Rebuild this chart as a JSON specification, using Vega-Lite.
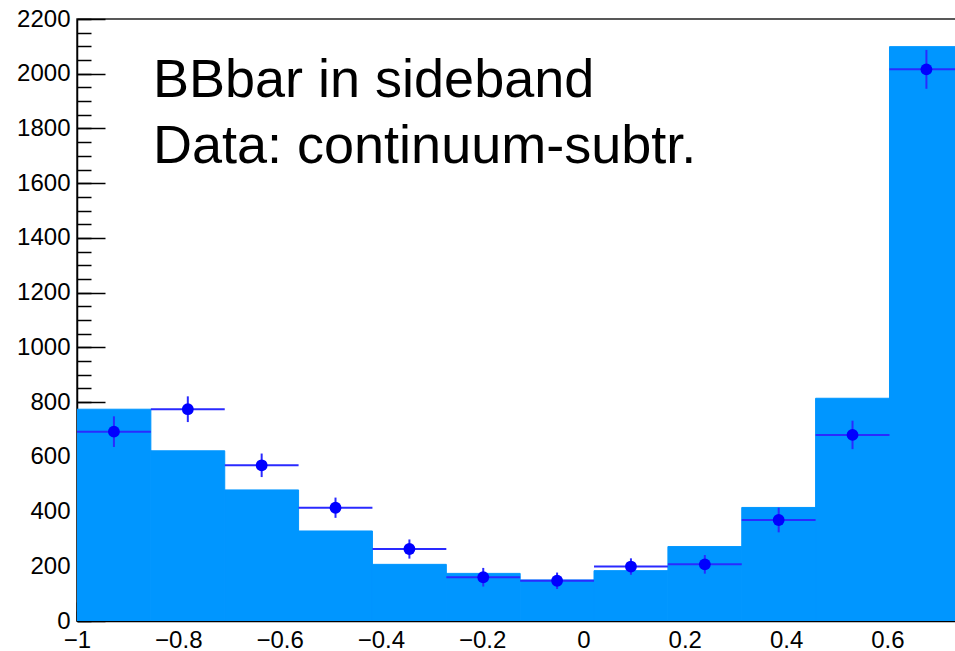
{
  "$schema": "https://vega.github.io/schema/vega-lite/v6.json",
  "width": 879,
  "height": 602,
  "autosize": "none",
  "padding": {"left": 77, "top": 19, "right": 0, "bottom": 30},
  "background": "white",
  "config": {
    "view": {"stroke": "#222", "strokeWidth": 1.5},
    "axis": {
      "labelFont": "Liberation Sans",
      "labelFontSize": 24,
      "labelColor": "#000",
      "domainColor": "#000",
      "domainWidth": 1.5,
      "tickColor": "#000",
      "tickWidth": 1.5,
      "grid": false,
      "labelFlush": false,
      "labelOverlap": false,
      "labelBound": false,
      "title": null
    }
  },
  "datasets": {
    "bins": [
      {"lo": -1.0, "hi": -0.8542, "mid": -0.9271, "mc": 774, "data": 692, "err": 56},
      {"lo": -0.8542, "hi": -0.7083, "mid": -0.7812, "mc": 622, "data": 774, "err": 47},
      {"lo": -0.7083, "hi": -0.5625, "mid": -0.6354, "mc": 479, "data": 569, "err": 43},
      {"lo": -0.5625, "hi": -0.4167, "mid": -0.4896, "mc": 329, "data": 414, "err": 37},
      {"lo": -0.4167, "hi": -0.2708, "mid": -0.3437, "mc": 207, "data": 263, "err": 35},
      {"lo": -0.2708, "hi": -0.125, "mid": -0.1979, "mc": 174, "data": 160, "err": 34},
      {"lo": -0.125, "hi": 0.0208, "mid": -0.0521, "mc": 150, "data": 147, "err": 30},
      {"lo": 0.0208, "hi": 0.1667, "mid": 0.0937, "mc": 184, "data": 199, "err": 30},
      {"lo": 0.1667, "hi": 0.3125, "mid": 0.2396, "mc": 272, "data": 207, "err": 34},
      {"lo": 0.3125, "hi": 0.4583, "mid": 0.3854, "mc": 415, "data": 369, "err": 45},
      {"lo": 0.4583, "hi": 0.6042, "mid": 0.5312, "mc": 814, "data": 680, "err": 52},
      {"lo": 0.6042, "hi": 0.75, "mid": 0.6771, "mc": 2099, "data": 2016, "err": 71}
    ],
    "labels": [
      {"text": "BBbar in sideband", "tx": -0.85, "ty": 1915},
      {"text": "Data: continuum-subtr.", "tx": -0.85, "ty": 1672}
    ]
  },
  "resolve": {"axis": {"x": "independent", "y": "independent"}},
  "layer": [
    {
      "data": {"name": "bins"},
      "mark": {"type": "rect", "color": "#0096FF", "stroke": "#0096FF", "strokeWidth": 1, "clip": true},
      "encoding": {
        "x": {
          "field": "lo", "type": "quantitative",
          "scale": {"domain": [-1, 0.7355], "nice": false, "zero": false},
          "axis": {
            "orient": "bottom",
            "values": [-1, -0.8, -0.6, -0.4, -0.2, 0, 0.2, 0.4, 0.6],
            "tickSize": -19,
            "labelPadding": 26,
            "labelExpr": "datum.value === 0 ? '0' : replace(format(datum.value, '.1~f'), '-', '\u2212')"
          }
        },
        "x2": {"field": "hi"},
        "y": {
          "field": "mc", "type": "quantitative",
          "scale": {"domain": [0, 2200], "nice": false, "zero": true},
          "axis": {
            "orient": "left",
            "values": [0, 200, 400, 600, 800, 1000, 1200, 1400, 1600, 1800, 2000, 2200],
            "tickSize": -28,
            "labelPadding": 35,
            "format": "d"
          }
        },
        "y2": {"datum": 0}
      }
    },
    {
      "data": {"name": "bins"},
      "mark": {"type": "rule", "color": "#2a2aff", "strokeWidth": 2, "clip": true},
      "encoding": {
        "x": {
          "field": "lo", "type": "quantitative",
          "axis": {
            "orient": "bottom",
            "values": [-1, -0.95, -0.9, -0.85, -0.8, -0.75, -0.7, -0.65, -0.6, -0.55, -0.5, -0.45, -0.4, -0.35, -0.3, -0.25, -0.2, -0.15, -0.1, -0.05, 0, 0.05, 0.1, 0.15, 0.2, 0.25, 0.3, 0.35, 0.4, 0.45, 0.5, 0.55, 0.6, 0.65, 0.7],
            "tickSize": -10,
            "labels": false,
            "domain": false
          }
        },
        "x2": {"field": "hi"},
        "y": {
          "field": "data", "type": "quantitative",
          "axis": {
            "orient": "left",
            "values": [0, 50, 100, 150, 200, 250, 300, 350, 400, 450, 500, 550, 600, 650, 700, 750, 800, 850, 900, 950, 1000, 1050, 1100, 1150, 1200, 1250, 1300, 1350, 1400, 1450, 1500, 1550, 1600, 1650, 1700, 1750, 1800, 1850, 1900, 1950, 2000, 2050, 2100, 2150, 2200],
            "tickSize": -14,
            "labels": false,
            "domain": false
          }
        }
      }
    },
    {
      "data": {"name": "bins"},
      "transform": [
        {"calculate": "datum.data - datum.err", "as": "elo"},
        {"calculate": "datum.data + datum.err", "as": "ehi"}
      ],
      "mark": {"type": "rule", "color": "#2a2aff", "strokeWidth": 2, "clip": true},
      "encoding": {
        "x": {"field": "mid", "type": "quantitative", "axis": null},
        "y": {"field": "elo", "type": "quantitative", "axis": null},
        "y2": {"field": "ehi"}
      }
    },
    {
      "data": {"name": "bins"},
      "mark": {"type": "point", "shape": "circle", "filled": true, "color": "#0000FF", "opacity": 1, "size": 140, "clip": true},
      "encoding": {
        "x": {"field": "mid", "type": "quantitative", "axis": null},
        "y": {"field": "data", "type": "quantitative", "axis": null}
      }
    },
    {
      "data": {"name": "labels"},
      "mark": {"type": "text", "font": "Liberation Sans", "fontSize": 54, "color": "#000", "align": "left", "baseline": "alphabetic"},
      "encoding": {
        "x": {"field": "tx", "type": "quantitative", "axis": null},
        "y": {"field": "ty", "type": "quantitative", "axis": null},
        "text": {"field": "text"}
      }
    }
  ]
}
